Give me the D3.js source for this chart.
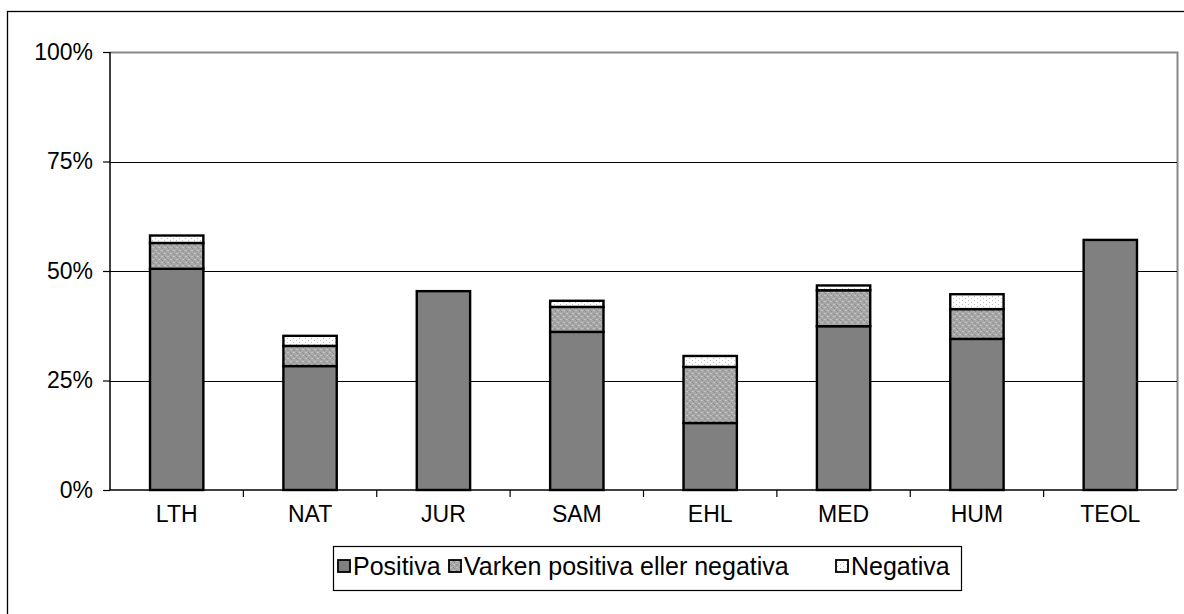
<!DOCTYPE html>
<meta charset="utf-8">
<style>
    body { margin: 0; background: #fff; }
    text { font-family: "Liberation Sans", Arial, sans-serif; fill: #000; }
    .tick text { font-size: 23px; }
    .legend text { font-size: 25px; }
</style>
<svg width="1184" height="614"></svg>
<script src="https://d3js.org/d3.v7.min.js"></script>
<script>

    var categories = ["LTH", "NAT", "JUR", "SAM", "EHL", "MED", "HUM", "TEOL"];
    var seriesNames = ["Positiva", "Varken positiva eller negativa", "Negativa"];
    var positiva = [50.5, 28.3, 45.4, 36.1, 15.3, 37.4, 34.5, 57.1];
    var varken   = [5.9, 4.6, 0, 5.7, 12.8, 8.2, 6.8, 0];
    var negativa = [1.7, 2.3, 0, 1.4, 2.5, 1.1, 3.4, 0];
    var yTicks = [0, 25, 50, 75, 100];

    var svg = d3.select("svg"),
        margin = {top: 52, right: 7, bottom: 124, left: 110},
        width = 1184 - margin.left - margin.right,
        height = 614 - margin.top - margin.bottom;

    // patterns
    var defs = svg.append("defs");
    var pv = defs.append("pattern").attr("id", "pat-varken")
        .attr("width", 6).attr("height", 6).attr("patternUnits", "userSpaceOnUse");
    pv.append("rect").attr("width", 6).attr("height", 6).attr("fill", "#a8a8a8");
    [[0, 0], [3, 3], [1, 1], [4, 4]].forEach(function(p) {
        pv.append("rect").attr("x", p[0]).attr("y", p[1]).attr("width", 1).attr("height", 1).attr("fill", "#8c8c8c");
    });
    [[3, 0], [0, 3]].forEach(function(p) {
        pv.append("rect").attr("x", p[0]).attr("y", p[1]).attr("width", 2).attr("height", 1).attr("fill", "#c4c4c4");
    });
    var pn = defs.append("pattern").attr("id", "pat-negativa")
        .attr("width", 6).attr("height", 4).attr("patternUnits", "userSpaceOnUse");
    pn.append("rect").attr("width", 6).attr("height", 4).attr("fill", "#fff");
    pn.append("rect").attr("x", 0).attr("y", 0).attr("width", 1).attr("height", 1).attr("fill", "#bcbcbc");
    pn.append("rect").attr("x", 3).attr("y", 2).attr("width", 1).attr("height", 1).attr("fill", "#bcbcbc");

    var fills = ["#808080", "url(#pat-varken)", "url(#pat-negativa)"];

    // outer frame
    svg.append("rect")
        .attr("x", 7.5).attr("y", 11.5)
        .attr("width", 1200).attr("height", 620)
        .attr("fill", "none").attr("stroke", "#000").attr("stroke-width", 1.3);

    var g = svg.append("g").attr("transform", "translate(" + margin.left + "," + margin.top + ")");

    var x = d3.scaleBand().domain(categories).range([0, width]).paddingInner(0.6).paddingOuter(0.3);
    var xb = d3.scaleBand().domain(categories).range([0, width]);
    var y = d3.scaleLinear().domain([0, 100]).range([height, 0]);

    // plot area border (grey top/right)
    g.append("path")
        .attr("d", "M0,0.5H" + (width + 0.5) + "V" + height)
        .attr("fill", "none").attr("stroke", "#888").attr("stroke-width", 2);

    // gridlines
    g.selectAll(".grid").data([25, 50, 75]).enter().append("line")
        .attr("x1", 0).attr("x2", width)
        .attr("y1", function(d) { return Math.round(y(d)) + 0.5; })
        .attr("y2", function(d) { return Math.round(y(d)) + 0.5; })
        .attr("stroke", "#000").attr("stroke-width", 1.2);

    // stacked bars
    var rows = categories.map(function(c, i) {
        return {cat: c, vals: [positiva[i], varken[i], negativa[i]]};
    });
    rows.forEach(function(r) {
        var base = 0;
        r.vals.forEach(function(v, k) {
            if (v > 0) {
                g.append("rect")
                    .attr("x", x(r.cat))
                    .attr("y", y(base + v))
                    .attr("width", x.bandwidth())
                    .attr("height", y(base) - y(base + v))
                    .attr("fill", fills[k])
                    .attr("stroke", "#000").attr("stroke-width", 2.4);
            }
            base += v;
        });
    });

    // axes
    var yAxis = g.append("g")
        .call(d3.axisLeft(y).tickValues(yTicks).tickSize(7).tickPadding(10)
            .tickFormat(function(d) { return d + "%"; }));
    yAxis.select(".domain").attr("stroke", "#000").attr("stroke-width", 1.5).attr("d", "M0," + height + "V0");
    yAxis.selectAll(".tick line").attr("stroke", "#000").attr("stroke-width", 1.2);

    var xAxis = g.append("g").attr("transform", "translate(0," + height + ")")
        .call(d3.axisBottom(xb).tickSize(0).tickPadding(16));
    xAxis.select(".domain").attr("stroke", "#000").attr("stroke-width", 1.5).attr("d", "M0,0H" + width);
    xAxis.selectAll(".bt").data(categories.slice(1)).enter().append("line")
        .attr("x1", function(d) { return xb(d); }).attr("x2", function(d) { return xb(d); })
        .attr("y1", 0).attr("y2", 7)
        .attr("stroke", "#000").attr("stroke-width", 1.2);

    // legend
    var legend = svg.append("g").attr("class", "legend");
    legend.append("rect")
        .attr("x", 333.5).attr("y", 546.5).attr("width", 628).attr("height", 44)
        .attr("fill", "#fff").attr("stroke", "#000").attr("stroke-width", 1.2);
    var legX = [338, 449, 836];
    seriesNames.forEach(function(name, k) {
        legend.append("rect")
            .attr("x", legX[k]).attr("y", 560).attr("width", 12).attr("height", 12)
            .attr("fill", fills[k]).attr("stroke", "#000").attr("stroke-width", 1.8);
        legend.append("text")
            .attr("x", legX[k] + 15).attr("y", 575)
            .text(name);
    });

</script>
